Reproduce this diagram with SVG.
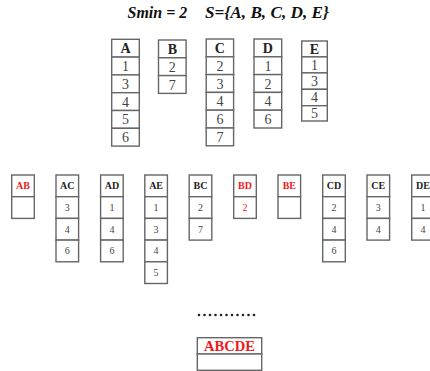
<svg xmlns="http://www.w3.org/2000/svg" width="430" height="371" viewBox="0 0 430 371">
  <style>
    .cell { fill: #fff; stroke: #666; stroke-width: 1.4; }
    .t { font-family: "Liberation Serif", "Times New Roman", serif; text-anchor: middle; fill: #222; }
    .big { font-size: 14px; }
    .sm { font-size: 10px; }
    .hd { font-weight: bold; }
    .num { fill: #444; }
    .red { fill: #f01818; }
    .title { font-family: "Liberation Serif", "Times New Roman", serif; font-size: 16px; font-weight: bold; font-style: italic; fill: #111; }
  </style>

  <!-- heading -->
  <text class="title" x="127.5" y="18">Smin = 2</text>
  <text class="title" x="205" y="18" textLength="124" lengthAdjust="spacingAndGlyphs">S={A, B, C, D, E}</text>

  <!-- single-item lists -->
  <g id="item-A">
    <rect class="cell" x="111.7" y="39.3" width="27.6" height="17.8"/>
    <rect class="cell" x="111.7" y="57.1" width="27.6" height="17.8"/>
    <rect class="cell" x="111.7" y="74.9" width="27.6" height="17.8"/>
    <rect class="cell" x="111.7" y="92.7" width="27.6" height="17.8"/>
    <rect class="cell" x="111.7" y="110.5" width="27.6" height="17.8"/>
    <rect class="cell" x="111.7" y="128.3" width="27.6" height="17.8"/>
    <text class="t big hd" x="125.5" y="53.2">A</text>
    <text class="t big num" x="125.5" y="71">1</text>
    <text class="t big num" x="125.5" y="88.8">3</text>
    <text class="t big num" x="125.5" y="106.6">4</text>
    <text class="t big num" x="125.5" y="124.4">5</text>
    <text class="t big num" x="125.5" y="142.2">6</text>
  </g>
  <g id="item-B">
    <rect class="cell" x="158.5" y="40" width="27.6" height="17.8"/>
    <rect class="cell" x="158.5" y="57.8" width="27.6" height="17.8"/>
    <rect class="cell" x="158.5" y="75.6" width="27.6" height="17.8"/>
    <text class="t big hd" x="172.3" y="53.9">B</text>
    <text class="t big num" x="172.3" y="71.7">2</text>
    <text class="t big num" x="172.3" y="89.5">7</text>
  </g>
  <g id="item-C">
    <rect class="cell" x="206.2" y="39" width="27.4" height="17.8"/>
    <rect class="cell" x="206.2" y="56.8" width="27.4" height="17.8"/>
    <rect class="cell" x="206.2" y="74.6" width="27.4" height="17.8"/>
    <rect class="cell" x="206.2" y="92.4" width="27.4" height="17.8"/>
    <rect class="cell" x="206.2" y="110.2" width="27.4" height="17.8"/>
    <rect class="cell" x="206.2" y="128" width="27.4" height="17.8"/>
    <text class="t big hd" x="219.9" y="52.9">C</text>
    <text class="t big num" x="219.9" y="70.7">2</text>
    <text class="t big num" x="219.9" y="88.5">3</text>
    <text class="t big num" x="219.9" y="106.3">4</text>
    <text class="t big num" x="219.9" y="124.1">6</text>
    <text class="t big num" x="219.9" y="141.9">7</text>
  </g>
  <g id="item-D">
    <rect class="cell" x="254" y="39" width="27.7" height="17.8"/>
    <rect class="cell" x="254" y="56.8" width="27.7" height="17.8"/>
    <rect class="cell" x="254" y="74.6" width="27.7" height="17.8"/>
    <rect class="cell" x="254" y="92.4" width="27.7" height="17.8"/>
    <rect class="cell" x="254" y="110.2" width="27.7" height="17.8"/>
    <text class="t big hd" x="267.9" y="52.9">D</text>
    <text class="t big num" x="267.9" y="70.7">1</text>
    <text class="t big num" x="267.9" y="88.5">2</text>
    <text class="t big num" x="267.9" y="106.3">4</text>
    <text class="t big num" x="267.9" y="124.1">6</text>
  </g>
  <g id="item-E">
    <rect class="cell" x="301.7" y="41" width="25.6" height="15.9"/>
    <rect class="cell" x="301.7" y="56.9" width="25.6" height="16"/>
    <rect class="cell" x="301.7" y="72.9" width="25.6" height="16.4"/>
    <rect class="cell" x="301.7" y="89.3" width="25.6" height="16.4"/>
    <rect class="cell" x="301.7" y="105.7" width="25.6" height="15.3"/>
    <text class="t big hd" x="314.5" y="53.6">E</text>
    <text class="t big num" x="314.5" y="69.5">1</text>
    <text class="t big num" x="314.5" y="85.7">3</text>
    <text class="t big num" x="314.5" y="102.1">4</text>
    <text class="t big num" x="314.5" y="117.9">5</text>
  </g>

  <!-- two-item lists -->
  <g id="pair-AB">
    <rect class="cell" x="11.7" y="175" width="22.6" height="21.7"/>
    <rect class="cell" x="11.7" y="196.7" width="22.6" height="21.7"/>
    <text class="t sm hd red" x="23" y="189.4">AB</text>
  </g>
  <g id="pair-AC">
    <rect class="cell" x="56" y="175" width="22.6" height="21.7"/>
    <rect class="cell" x="56" y="196.7" width="22.6" height="21.7"/>
    <rect class="cell" x="56" y="218.4" width="22.6" height="21.7"/>
    <rect class="cell" x="56" y="240.1" width="22.6" height="21.7"/>
    <text class="t sm hd" x="67.3" y="189.4">AC</text>
    <text class="t sm num" x="67.3" y="211">3</text>
    <text class="t sm num" x="67.3" y="232.7">4</text>
    <text class="t sm num" x="67.3" y="254.4">6</text>
  </g>
  <g id="pair-AD">
    <rect class="cell" x="100.6" y="175" width="22.6" height="21.7"/>
    <rect class="cell" x="100.6" y="196.7" width="22.6" height="21.7"/>
    <rect class="cell" x="100.6" y="218.4" width="22.6" height="21.7"/>
    <rect class="cell" x="100.6" y="240.1" width="22.6" height="21.7"/>
    <text class="t sm hd" x="111.9" y="189.4">AD</text>
    <text class="t sm num" x="111.9" y="211">1</text>
    <text class="t sm num" x="111.9" y="232.7">4</text>
    <text class="t sm num" x="111.9" y="254.4">6</text>
  </g>
  <g id="pair-AE">
    <rect class="cell" x="144.8" y="175" width="22.6" height="21.7"/>
    <rect class="cell" x="144.8" y="196.7" width="22.6" height="21.7"/>
    <rect class="cell" x="144.8" y="218.4" width="22.6" height="21.7"/>
    <rect class="cell" x="144.8" y="240.1" width="22.6" height="21.7"/>
    <rect class="cell" x="144.8" y="261.8" width="22.6" height="21.7"/>
    <text class="t sm hd" x="156.1" y="189.4">AE</text>
    <text class="t sm num" x="156.1" y="211">1</text>
    <text class="t sm num" x="156.1" y="232.7">3</text>
    <text class="t sm num" x="156.1" y="254.4">4</text>
    <text class="t sm num" x="156.1" y="276.1">5</text>
  </g>
  <g id="pair-BC">
    <rect class="cell" x="189.2" y="175" width="22.6" height="21.7"/>
    <rect class="cell" x="189.2" y="196.7" width="22.6" height="21.7"/>
    <rect class="cell" x="189.2" y="218.4" width="22.6" height="21.7"/>
    <text class="t sm hd" x="200.5" y="189.4">BC</text>
    <text class="t sm num" x="200.5" y="211">2</text>
    <text class="t sm num" x="200.5" y="232.7">7</text>
  </g>
  <g id="pair-BD">
    <rect class="cell" x="233.7" y="175" width="22.6" height="21.7"/>
    <rect class="cell" x="233.7" y="196.7" width="22.6" height="21.7"/>
    <text class="t sm hd red" x="245" y="189.4">BD</text>
    <text class="t sm red" x="245" y="211">2</text>
  </g>
  <g id="pair-BE">
    <rect class="cell" x="278" y="175" width="22.6" height="21.7"/>
    <rect class="cell" x="278" y="196.7" width="22.6" height="21.7"/>
    <text class="t sm hd red" x="289.3" y="189.4">BE</text>
  </g>
  <g id="pair-CD">
    <rect class="cell" x="322.7" y="175" width="22.6" height="21.7"/>
    <rect class="cell" x="322.7" y="196.7" width="22.6" height="21.7"/>
    <rect class="cell" x="322.7" y="218.4" width="22.6" height="21.7"/>
    <rect class="cell" x="322.7" y="240.1" width="22.6" height="21.7"/>
    <text class="t sm hd" x="334" y="189.4">CD</text>
    <text class="t sm num" x="334" y="211">2</text>
    <text class="t sm num" x="334" y="232.7">4</text>
    <text class="t sm num" x="334" y="254.4">6</text>
  </g>
  <g id="pair-CE">
    <rect class="cell" x="367" y="175" width="22.6" height="21.7"/>
    <rect class="cell" x="367" y="196.7" width="22.6" height="21.7"/>
    <rect class="cell" x="367" y="218.4" width="22.6" height="21.7"/>
    <text class="t sm hd" x="378.3" y="189.4">CE</text>
    <text class="t sm num" x="378.3" y="211">3</text>
    <text class="t sm num" x="378.3" y="232.7">4</text>
  </g>
  <g id="pair-DE">
    <rect class="cell" x="411.7" y="175" width="22.6" height="21.7"/>
    <rect class="cell" x="411.7" y="196.7" width="22.6" height="21.7"/>
    <rect class="cell" x="411.7" y="218.4" width="22.6" height="21.7"/>
    <text class="t sm hd" x="423" y="189.4">DE</text>
    <text class="t sm num" x="423" y="211">1</text>
    <text class="t sm num" x="423" y="232.7">4</text>
  </g>

  <!-- ellipsis between levels -->
  <g id="ellipsis" fill="#222">
    <circle cx="199" cy="315" r="1.3"/>
    <circle cx="204.5" cy="315" r="1.3"/>
    <circle cx="210" cy="315" r="1.3"/>
    <circle cx="215.5" cy="315" r="1.3"/>
    <circle cx="221" cy="315" r="1.3"/>
    <circle cx="226.5" cy="315" r="1.3"/>
    <circle cx="232" cy="315" r="1.3"/>
    <circle cx="237.5" cy="315" r="1.3"/>
    <circle cx="243" cy="315" r="1.3"/>
    <circle cx="248.5" cy="315" r="1.3"/>
    <circle cx="254" cy="315" r="1.3"/>
  </g>

  <!-- full itemset -->
  <g id="set-ABCDE">
    <rect class="cell" x="197.3" y="337.7" width="64.4" height="16.3"/>
    <rect class="cell" x="197.3" y="354" width="64.4" height="16.3"/>
    <text class="t big hd red" x="229.5" y="351" textLength="51" lengthAdjust="spacingAndGlyphs">ABCDE</text>
  </g>

  <!-- no connectors are drawn between the lists -->
  <g id="connectors"/>
</svg>
